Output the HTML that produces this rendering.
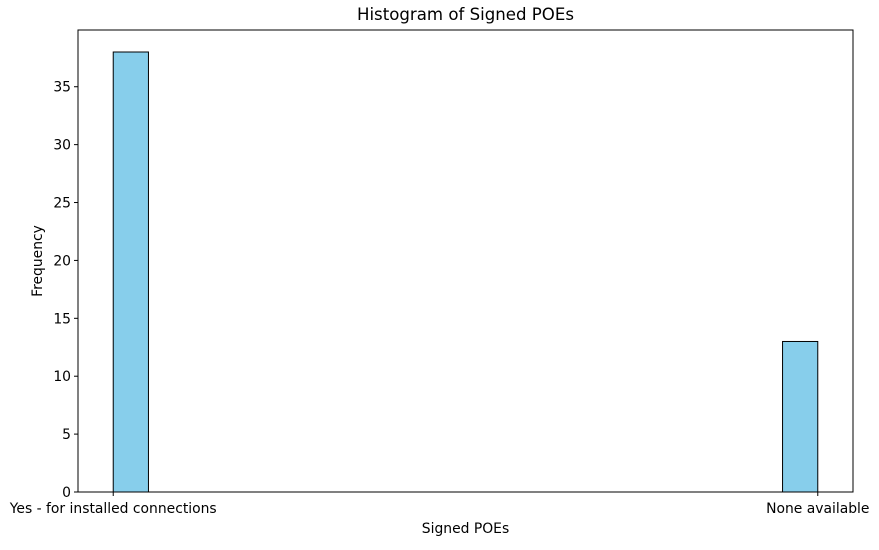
<!DOCTYPE html>
<html><head><meta charset="utf-8"><style>
body{margin:0;background:#fff;}
svg text{font-family:"DejaVu Sans","Liberation Sans",sans-serif;fill:#000;}
</style></head><body>
<svg id="chart" width="879" height="545">
<text x="465.5" y="20" font-size="16.6" text-anchor="middle">Histogram of Signed POEs</text>
<g id="yticks"></g>
<g id="xticks"></g>
<g id="bars"></g>
<rect x="78" y="30" width="775" height="462" fill="none" stroke="#000" stroke-width="1"/>
<text x="465.5" y="533" font-size="13.9" text-anchor="middle">Signed POEs</text>
<text transform="translate(42,261) rotate(-90)" font-size="13.9" text-anchor="middle">Frequency</text>
</svg>
<script>
const categories = ["Yes - for installed connections", "None available"];
const counts = [38, 13];
const yTicks = [0, 5, 10, 15, 20, 25, 30, 35];
const binCount = 20;

const L=78,R=853,T=30,B=492;
const xMin=-0.05,xMax=1.05,yMin=0,yMax=39.9;
const xs=v=>L+(v-xMin)/(xMax-xMin)*(R-L);
const ys=v=>B-(v-yMin)/(yMax-yMin)*(B-T);
const NS="http://www.w3.org/2000/svg";
const yg=document.getElementById('yticks'),xg=document.getElementById('xticks'),bg=document.getElementById('bars');
yTicks.forEach(t=>{
  const y=ys(t);
  const l=document.createElementNS(NS,'line');
  l.setAttribute('x1',L-4);l.setAttribute('x2',L);l.setAttribute('y1',y);l.setAttribute('y2',y);l.setAttribute('stroke','#000');
  
  
  yg.appendChild(l);
  const tx=document.createElementNS(NS,'text');
  tx.setAttribute('x',L-7);tx.setAttribute('y',y+5);tx.setAttribute('font-size','13.9');tx.setAttribute('text-anchor','end');
  tx.textContent=t;
  
  
  yg.appendChild(tx);
});
const w=1/binCount;
categories.forEach((c,i)=>{
  const pos=categories.length>1?i/(categories.length-1):0;
  const x=xs(pos);
  const l=document.createElementNS(NS,'line');
  l.setAttribute('x1',x);l.setAttribute('x2',x);l.setAttribute('y1',B);l.setAttribute('y2',B+4);l.setAttribute('stroke','#000');
  
  
  xg.appendChild(l);
  const tx=document.createElementNS(NS,'text');
  tx.setAttribute('x',x);tx.setAttribute('y',B+21);tx.setAttribute('font-size','13.9');tx.setAttribute('text-anchor','middle');
  tx.textContent=c;
  
  
  xg.appendChild(tx);
  const left=Math.min(pos,1-w);
  const r=document.createElementNS(NS,'rect');
  r.setAttribute('x',xs(left));r.setAttribute('width',xs(left+w)-xs(left));
  r.setAttribute('y',ys(counts[i]));r.setAttribute('height',ys(0)-ys(counts[i]));
  r.setAttribute('fill','#87ceeb');r.setAttribute('stroke','#000');r.setAttribute('stroke-width','1');
  
  
  bg.appendChild(r);
});
</script>
</body></html>
